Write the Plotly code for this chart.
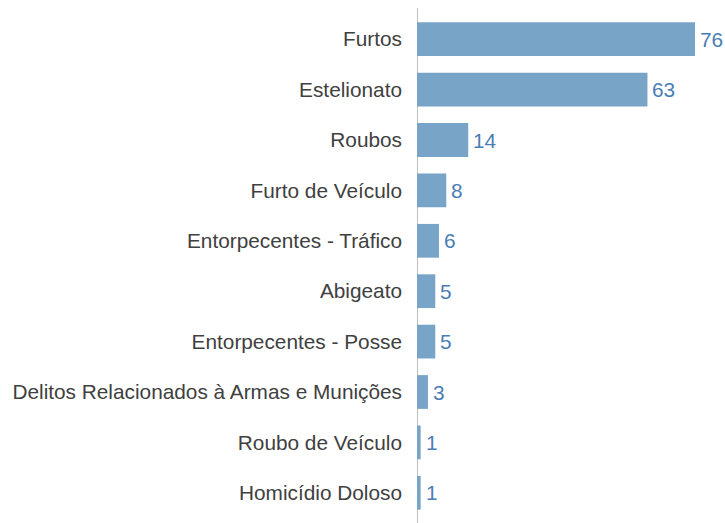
import plotly.graph_objects as go

# Occurrences by crime type
categories = [
    "Furtos",
    "Estelionato",
    "Roubos",
    "Furto de Veículo",
    "Entorpecentes - Tráfico",
    "Abigeato",
    "Entorpecentes - Posse",
    "Delitos Relacionados à Armas e Munições",
    "Roubo de Veículo",
    "Homicídio Doloso",
]
counts = [76, 63, 14, 8, 6, 5, 5, 3, 1, 1]

BAR_COLOR = "#78A4C8"
VALUE_COLOR = "#4A7DB5"
LABEL_COLOR = "#404040"
FONT = "Liberation Sans, Arial, sans-serif"
FONT_SIZE = 20.8

fig = go.Figure(
    go.Bar(
        x=counts,
        y=categories,
        orientation="h",
        marker=dict(color=BAR_COLOR, line=dict(width=0)),
    )
)

# value labels just past the end of each bar
for cat, val in zip(categories, counts):
    fig.add_annotation(
        x=val, y=cat,
        text=str(val),
        showarrow=False,
        xanchor="left",
        xshift=3,
        font=dict(color=VALUE_COLOR, size=FONT_SIZE, family=FONT),
    )

# vertical category axis line
fig.add_shape(
    type="line",
    xref="x", yref="paper",
    x0=0, x1=0, y0=-0.012, y1=1.012,
    line=dict(color="#BFBFBF", width=2),
    layer="below",
)

fig.update_layout(
    width=725,
    height=523,
    margin=dict(l=417, r=0, t=14, b=5),
    paper_bgcolor="white",
    plot_bgcolor="white",
    bargap=0.33,
    showlegend=False,
    font=dict(family=FONT, size=FONT_SIZE, color=LABEL_COLOR),
)
fig.update_xaxes(
    range=[0, 84.2],
    visible=False,
    showgrid=False,
    zeroline=False,
)
fig.update_yaxes(
    autorange="reversed",
    showgrid=False,
    zeroline=False,
    showline=False,
    ticks="",
    ticklabelstandoff=14,
    tickfont=dict(size=FONT_SIZE, color=LABEL_COLOR, family=FONT),
)

fig.write_html("out.html")
